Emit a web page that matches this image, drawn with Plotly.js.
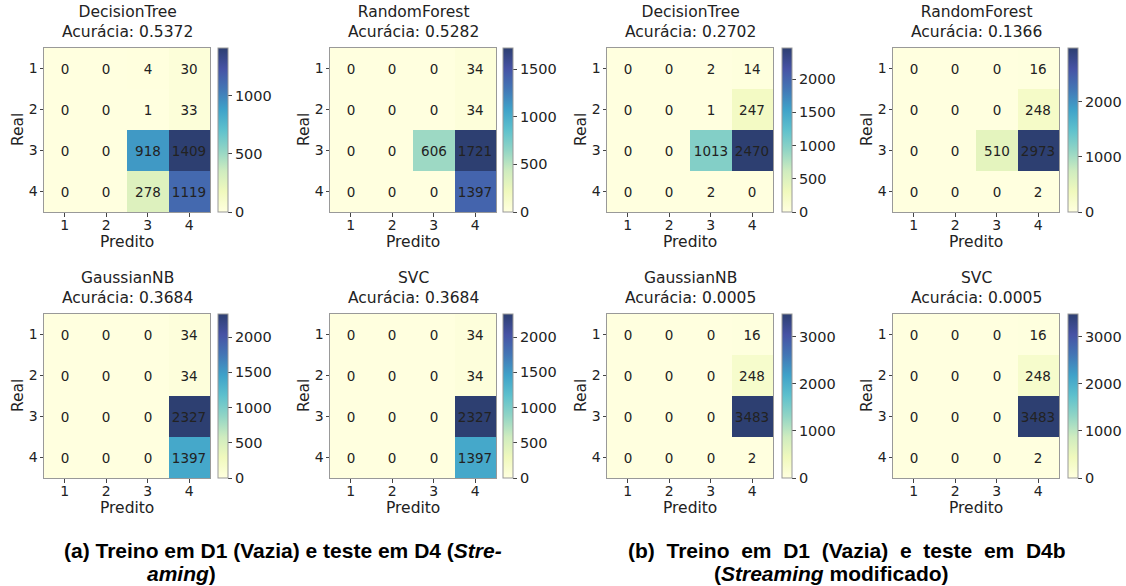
<!DOCTYPE html>
<html>
<head>
<meta charset="utf-8">
<script src="https://cdn.plot.ly/plotly-3.0.1.min.js"></script>
<style>html,body{margin:0;padding:0;background:#fff}#chart{width:1126px;height:586px}</style>
</head>
<body>
<div id="chart"></div>
<script>
// ---- data ----
const classes = [1, 2, 3, 4];
const modelNames = ["DecisionTree", "RandomForest", "DecisionTree", "RandomForest",
                    "GaussianNB", "SVC", "GaussianNB", "SVC"];
const accuracies = ["0.5372", "0.5282", "0.2702", "0.1366",
                    "0.3684", "0.3684", "0.0005", "0.0005"];
const dtA  = [[0,0,4,30],[0,0,1,33],[0,0,918,1409],[0,0,278,1119]];
const rfA  = [[0,0,0,34],[0,0,0,34],[0,0,606,1721],[0,0,0,1397]];
const dtB  = [[0,0,2,14],[0,0,1,247],[0,0,1013,2470],[0,0,2,0]];
const rfB  = [[0,0,0,16],[0,0,0,248],[0,0,510,2973],[0,0,0,2]];
const gnbA = [[0,0,0,34],[0,0,0,34],[0,0,0,2327],[0,0,0,1397]];
const svcA = [[0,0,0,34],[0,0,0,34],[0,0,0,2327],[0,0,0,1397]];
const gnbB = [[0,0,0,16],[0,0,0,248],[0,0,0,3483],[0,0,0,2]];
const svcB = [[0,0,0,16],[0,0,0,248],[0,0,0,3483],[0,0,0,2]];
const matrices = [dtA, rfA, dtB, rfB, gnbA, svcA, gnbB, svcB];
const cbDticks = [500, 500, 500, 1000, 500, 500, 1000, 1000];
const captionA1 = "<b>(a) Treino em D1 (Vazia) e teste em D4 (<i>Stre-</i></b>";
const captionA2 = "<b><i>aming</i>)</b>";
const captionB1 = "<b>(b)\u00a0\u00a0Treino\u00a0\u00a0em\u00a0\u00a0D1\u00a0\u00a0(Vazia)\u00a0\u00a0e\u00a0\u00a0teste\u00a0\u00a0em\u00a0\u00a0D4b</b>";
const captionB2 = "<b>(<i>Streaming</i> modificado)</b>";

// ---- layout geometry (pixels) ----
const W = 1126, H = 586;
const colX = [[44,210],[330,496],[607,773],[893,1059]];
const cbX = [218, 503, 782, 1068];
const rowY = [[48,212],[314,478]];
const px = v => v / W;
const py = v => 1 - v / H;

// YlGnBu blended with alpha 0.85 on white
const cscale = [
  [0, "rgb(255,255,223)"], [0.125, "rgb(240,249,189)"], [0.25, "rgb(207,236,191)"],
  [0.375, "rgb(146,213,197)"], [0.5, "rgb(94,193,205)"], [0.625, "rgb(63,162,201)"],
  [0.75, "rgb(67,118,181)"], [0.875, "rgb(70,82,164)"], [1, "rgb(45,63,113)"]
];

const FONT = "DejaVu Sans, sans-serif";
const TXT = "#222";
const data = [];
const layout = {
  width: W, height: H,
  margin: {l:0, r:0, t:0, b:0},
  paper_bgcolor: "#fff", plot_bgcolor: "#fff",
  showlegend: false,
  font: {family: FONT, color: TXT},
  annotations: []
};

matrices.forEach((z, i) => {
  const r = Math.floor(i / 4), c = i % 4;
  const n = i + 1;
  const xa = "x" + (n === 1 ? "" : n), ya = "y" + (n === 1 ? "" : n);
  const xk = "xaxis" + (n === 1 ? "" : n), yk = "yaxis" + (n === 1 ? "" : n);
  const [x0, x1] = colX[c];
  const [y0, y1] = rowY[r];
  let zmax = 0; z.forEach(row => row.forEach(v => { if (v > zmax) zmax = v; }));
  data.push({
    type: "heatmap", x: classes, y: classes, z: z,
    xaxis: xa, yaxis: ya,
    zmin: 0, zmax: zmax, colorscale: cscale,
    texttemplate: "%{z}", textfont: {family: FONT, size: 13.5, color: TXT},
    hoverinfo: "skip",
    colorbar: {
      x: px(cbX[c]), xanchor: "left", xpad: 0, ypad: 0,
      y: py(y1), yanchor: "bottom", len: (y1 - y0) / H, lenmode: "fraction",
      thickness: 10, thicknessmode: "pixels",
      outlinewidth: 1, outlinecolor: "#999",
      tickmode: "linear", tick0: 0, dtick: cbDticks[i],
      ticks: "outside", ticklen: 4, tickcolor: "#444",
      tickfont: {family: FONT, size: 14.5, color: TXT}
    }
  });
  const axCommon = {
    showline: true, mirror: true, linecolor: "#999", linewidth: 1,
    showgrid: false, zeroline: false, ticks: "outside", ticklen: 3.5, tickcolor: "#444",
    tickmode: "array", tickvals: classes, ticktext: classes.map(String),
    tickfont: {family: FONT, size: 14, color: TXT}, fixedrange: true
  };
  layout[xk] = Object.assign({}, axCommon, {domain: [px(x0), px(x1)], range: [0.5, 4.5], anchor: ya, ticklabelstandoff: -3});
  layout[yk] = Object.assign({}, axCommon, {domain: [py(y1), py(y0)], range: [4.5, 0.5], anchor: xa, ticklabelstandoff: -1});
  const cx = (x0 + x1) / 2, cy = (y0 + y1) / 2;
  layout.annotations.push({
    xref: "paper", yref: "paper", x: px(cx), y: py(22 + r * 266),
    xanchor: "center", yanchor: "middle", showarrow: false,
    text: modelNames[i] + "<br>Acurácia: " + accuracies[i],
    font: {family: FONT, size: 15.5, color: TXT}
  });
  layout.annotations.push({
    xref: "paper", yref: "paper", x: px(cx), y: py(y1 + 30),
    xanchor: "center", yanchor: "middle", showarrow: false,
    text: "Predito", font: {family: FONT, size: 15.5, color: TXT}
  });
  layout.annotations.push({
    xref: "paper", yref: "paper", x: px(x0 - 26), y: py(cy),
    xanchor: "center", yanchor: "middle", showarrow: false, textangle: -90,
    text: "Real", font: {family: FONT, size: 15.5, color: TXT}
  });
});

const capFont = {family: "Liberation Sans, Arial, sans-serif", size: 21, color: "#000"};
layout.annotations.push(
  {xref:"paper", yref:"paper", x: px(283), y: py(550), xanchor:"center", yanchor:"middle", showarrow:false, text: captionA1, font: capFont},
  {xref:"paper", yref:"paper", x: px(145), y: py(573), xanchor:"left", yanchor:"middle", showarrow:false, text: captionA2, font: capFont},
  {xref:"paper", yref:"paper", x: px(847), y: py(550), xanchor:"center", yanchor:"middle", showarrow:false, text: captionB1, font: capFont},
  {xref:"paper", yref:"paper", x: px(831), y: py(573), xanchor:"center", yanchor:"middle", showarrow:false, text: captionB2, font: capFont}
);

Plotly.newPlot("chart", data, layout, {displayModeBar: false, staticPlot: true});
</script>
</body>
</html>
